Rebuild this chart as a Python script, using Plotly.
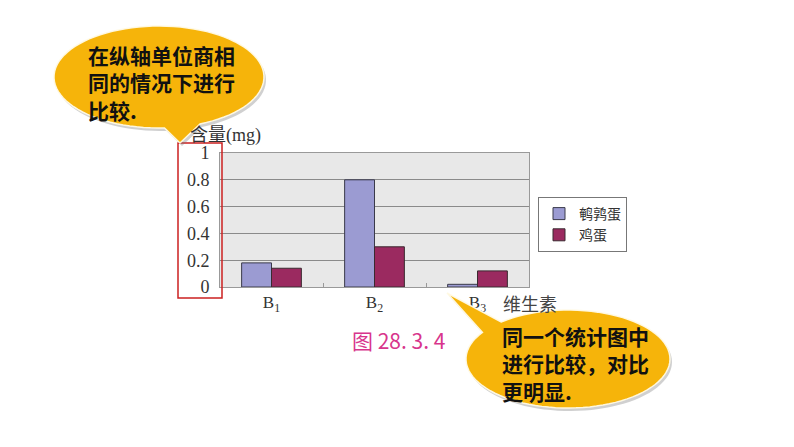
import numpy as np
import plotly.graph_objects as go

# ---- data ----
categories = ["B1", "B2", "B3"]
tick_labels = ["B<sub>1</sub>", "B<sub>2</sub>", "B<sub>3</sub>"]
quail_egg = [0.18, 0.80, 0.02]
hen_egg = [0.14, 0.30, 0.12]
series_names = ["鹌鹑蛋", "鸡蛋"]
y_ticks = [0, 0.2, 0.4, 0.6, 0.8, 1]
y_tick_labels = ["0", "0.2", "0.4", "0.6", "0.8", "1"]
y_title = "含量(mg)"
x_title = "维生素"
caption = "图 28. 3. 4"
note1 = ["在纵轴单位商相", "同的情况下进行", "比较."]
note2 = ["同一个统计图中", "进行比较，对比", "更明显."]

# page has an 8px body margin: figure covers window pixels 8..794, 8..447
OFF = 8
W, H = 794 - OFF, 447 - OFF


def px(x):
    return (x - OFF) / W


def py(y):
    return 1 - (y - OFF) / H


def callout_path(cx, cy, rx, ry, a1, a2, tip, dx=0, dy=0):
    angs = np.radians(np.linspace(a2, a1 + 360, 90))
    pts = [(cx + rx * np.cos(a) + dx, cy + ry * np.sin(a) + dy) for a in angs]
    pts.append((tip[0] + dx, tip[1] + dy))
    d = "M " + " L ".join(f"{px(x):.5f},{py(y):.5f}" for x, y in pts) + " Z"
    return d


fig = go.Figure()
fig.add_trace(go.Bar(x=categories, y=quail_egg, name=series_names[0],
                     marker=dict(color="#9b9bd2", line=dict(color="#3a3a4a", width=1))))
fig.add_trace(go.Bar(x=categories, y=hen_egg, name=series_names[1],
                     marker=dict(color="#9b2a60", line=dict(color="#3a2a30", width=1))))

serif = "Liberation Serif, Times New Roman, serif"
cjk = "Noto Sans CJK SC"

fig.update_layout(
    width=W, height=H, autosize=False,
    margin=dict(l=0, r=0, t=0, b=0, autoexpand=False),
    paper_bgcolor="white",
    plot_bgcolor="#e8e8e8",
    barmode="group", bargap=0.42, bargroupgap=0,
    showlegend=True,
    legend=dict(x=px(538), y=py(197), xanchor="left", yanchor="top",
                bordercolor="#777", borderwidth=1, bgcolor="white",
                font=dict(family=cjk, size=14, color="#333"),
                itemwidth=30, tracegroupgap=0),
    xaxis=dict(domain=[px(220), px(529)], tickmode="array", tickvals=categories,
               ticktext=tick_labels, tickfont=dict(family=serif, size=17, color="#333"),
               showline=True, linecolor="#999", mirror=True, automargin=False,
               ticks="inside", tickson="boundaries", ticklen=4, tickcolor="#999",
               showgrid=False),
    yaxis=dict(domain=[py(287), py(153)], range=[0, 1], tickvals=y_ticks,
               ticktext=y_tick_labels, tickfont=dict(family=serif, size=18, color="#333"),
               showgrid=True, gridcolor="#8a8a8a", gridwidth=1, automargin=False,
               showline=True, linecolor="#999", mirror=True, zeroline=False,
               ticks="", ticklabelstandoff=6),
)

shapes = []
# red rectangle around the y tick labels
shapes.append(dict(type="rect", xref="paper", yref="paper",
                   x0=px(178), x1=px(222), y0=py(298), y1=py(143),
                   line=dict(color="#cc2020", width=1.5), layer="above"))

callouts = [
    dict(cx=159, cy=77, rx=105, ry=51, a1=67, a2=87, tip=(180, 143)),
    dict(cx=568, cy=359, rx=102, ry=49, a1=213, a2=229, tip=(447, 293)),
]
for c in callouts:
    shapes.append(dict(type="path", xref="paper", yref="paper",
                       path=callout_path(c["cx"], c["cy"], c["rx"], c["ry"], c["a1"], c["a2"], c["tip"], 2, 3),
                       fillcolor="rgba(120,120,120,0.35)", line=dict(width=0), layer="above"))
    shapes.append(dict(type="path", xref="paper", yref="paper",
                       path=callout_path(c["cx"], c["cy"], c["rx"], c["ry"], c["a1"], c["a2"], c["tip"]),
                       fillcolor="#f6b40a", line=dict(color="rgba(255,250,230,0.95)", width=1.5),
                       layer="above"))
fig.update_layout(shapes=shapes)

ann = []
ann.append(dict(text=y_title, x=px(188), y=py(135), xref="paper", yref="paper",
                xanchor="left", yanchor="middle", showarrow=False,
                font=dict(family=serif + ", " + cjk, size=18, color="#333")))
ann.append(dict(text=x_title, x=px(501), y=py(303), xref="paper", yref="paper",
                xanchor="left", yanchor="middle", showarrow=False,
                font=dict(family=cjk, size=18, color="#444")))
ann.append(dict(text=caption, x=px(350), y=py(340), xref="paper", yref="paper",
                xanchor="left", yanchor="middle", showarrow=False,
                font=dict(family=cjk, size=21, color="#d8358c")))
ann.append(dict(text="<br>".join(f"<b>{s}</b>" for s in note1), x=px(86), y=py(82),
                xref="paper", yref="paper", xanchor="left", yanchor="middle", align="left",
                showarrow=False, font=dict(family=cjk, size=21, color="#111")))
ann.append(dict(text="<br>".join(f"<b>{s}</b>" for s in note2), x=px(500), y=py(363),
                xref="paper", yref="paper", xanchor="left", yanchor="middle", align="left",
                showarrow=False, font=dict(family=cjk, size=21, color="#111")))
fig.update_layout(annotations=ann)

fig.write_html("out.html")
